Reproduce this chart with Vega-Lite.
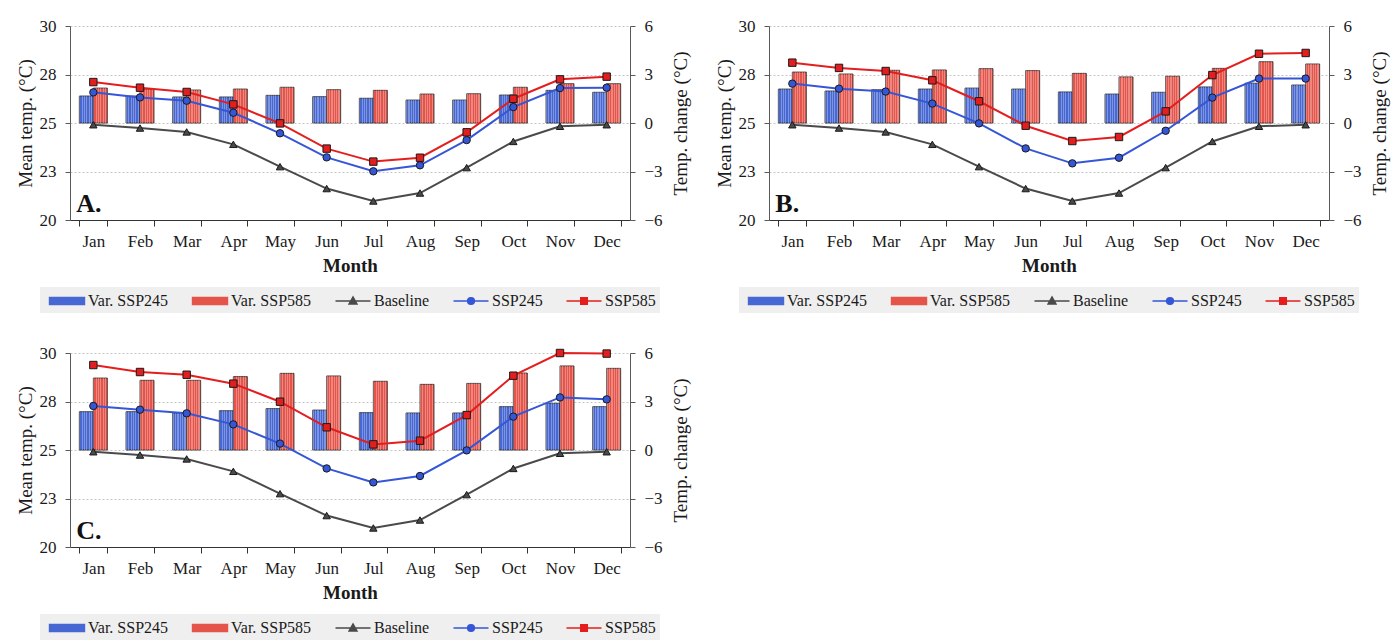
{
  "$schema": "https://vega.github.io/schema/vega-lite/v6.json",
  "background": "white",
  "padding": {"top": 17, "left": 16, "right": 5, "bottom": 0},
  "datasets": {
    "labels": [
      {"panel": "A", "label": "A."},
      {"panel": "B", "label": "B."},
      {"panel": "C", "label": "C."}
    ],
    "main": [
      {"panel":"A","month":"Jan","series":"Baseline","value":24.91},
      {"panel":"A","month":"Feb","series":"Baseline","value":24.74},
      {"panel":"A","month":"Mar","series":"Baseline","value":24.54},
      {"panel":"A","month":"Apr","series":"Baseline","value":23.90},
      {"panel":"A","month":"May","series":"Baseline","value":22.75},
      {"panel":"A","month":"Jun","series":"Baseline","value":21.62},
      {"panel":"A","month":"Jul","series":"Baseline","value":20.98},
      {"panel":"A","month":"Aug","series":"Baseline","value":21.39},
      {"panel":"A","month":"Sep","series":"Baseline","value":22.70},
      {"panel":"A","month":"Oct","series":"Baseline","value":24.05},
      {"panel":"A","month":"Nov","series":"Baseline","value":24.83},
      {"panel":"A","month":"Dec","series":"Baseline","value":24.91},
      {"panel":"A","month":"Jan","series":"SSP245","value":26.58},
      {"panel":"A","month":"Feb","series":"SSP245","value":26.32},
      {"panel":"A","month":"Mar","series":"SSP245","value":26.15},
      {"panel":"A","month":"Apr","series":"SSP245","value":25.53},
      {"panel":"A","month":"May","series":"SSP245","value":24.47},
      {"panel":"A","month":"Jun","series":"SSP245","value":23.23},
      {"panel":"A","month":"Jul","series":"SSP245","value":22.51},
      {"panel":"A","month":"Aug","series":"SSP245","value":22.82},
      {"panel":"A","month":"Sep","series":"SSP245","value":24.12},
      {"panel":"A","month":"Oct","series":"SSP245","value":25.82},
      {"panel":"A","month":"Nov","series":"SSP245","value":26.80},
      {"panel":"A","month":"Dec","series":"SSP245","value":26.82},
      {"panel":"A","month":"Jan","series":"SSP585","value":27.11},
      {"panel":"A","month":"Feb","series":"SSP585","value":26.82},
      {"panel":"A","month":"Mar","series":"SSP585","value":26.60},
      {"panel":"A","month":"Apr","series":"SSP585","value":25.96},
      {"panel":"A","month":"May","series":"SSP585","value":24.98},
      {"panel":"A","month":"Jun","series":"SSP585","value":23.68},
      {"panel":"A","month":"Jul","series":"SSP585","value":23.01},
      {"panel":"A","month":"Aug","series":"SSP585","value":23.21},
      {"panel":"A","month":"Sep","series":"SSP585","value":24.52},
      {"panel":"A","month":"Oct","series":"SSP585","value":26.25},
      {"panel":"A","month":"Nov","series":"SSP585","value":27.25},
      {"panel":"A","month":"Dec","series":"SSP585","value":27.39},
      {"panel":"A","month":"Jan","series":"Var. SSP245","value":1.67},
      {"panel":"A","month":"Feb","series":"Var. SSP245","value":1.67},
      {"panel":"A","month":"Mar","series":"Var. SSP245","value":1.61},
      {"panel":"A","month":"Apr","series":"Var. SSP245","value":1.61},
      {"panel":"A","month":"May","series":"Var. SSP245","value":1.71},
      {"panel":"A","month":"Jun","series":"Var. SSP245","value":1.63},
      {"panel":"A","month":"Jul","series":"Var. SSP245","value":1.53},
      {"panel":"A","month":"Aug","series":"Var. SSP245","value":1.42},
      {"panel":"A","month":"Sep","series":"Var. SSP245","value":1.42},
      {"panel":"A","month":"Oct","series":"Var. SSP245","value":1.73},
      {"panel":"A","month":"Nov","series":"Var. SSP245","value":2.02},
      {"panel":"A","month":"Dec","series":"Var. SSP245","value":1.90},
      {"panel":"A","month":"Jan","series":"Var. SSP585","value":2.16},
      {"panel":"A","month":"Feb","series":"Var. SSP585","value":2.10},
      {"panel":"A","month":"Mar","series":"Var. SSP585","value":2.04},
      {"panel":"A","month":"Apr","series":"Var. SSP585","value":2.10},
      {"panel":"A","month":"May","series":"Var. SSP585","value":2.21},
      {"panel":"A","month":"Jun","series":"Var. SSP585","value":2.06},
      {"panel":"A","month":"Jul","series":"Var. SSP585","value":2.02},
      {"panel":"A","month":"Aug","series":"Var. SSP585","value":1.79},
      {"panel":"A","month":"Sep","series":"Var. SSP585","value":1.81},
      {"panel":"A","month":"Oct","series":"Var. SSP585","value":2.21},
      {"panel":"A","month":"Nov","series":"Var. SSP585","value":2.43},
      {"panel":"A","month":"Dec","series":"Var. SSP585","value":2.43},

      {"panel":"B","month":"Jan","series":"Baseline","value":24.91},
      {"panel":"B","month":"Feb","series":"Baseline","value":24.74},
      {"panel":"B","month":"Mar","series":"Baseline","value":24.54},
      {"panel":"B","month":"Apr","series":"Baseline","value":23.90},
      {"panel":"B","month":"May","series":"Baseline","value":22.75},
      {"panel":"B","month":"Jun","series":"Baseline","value":21.62},
      {"panel":"B","month":"Jul","series":"Baseline","value":20.98},
      {"panel":"B","month":"Aug","series":"Baseline","value":21.39},
      {"panel":"B","month":"Sep","series":"Baseline","value":22.70},
      {"panel":"B","month":"Oct","series":"Baseline","value":24.05},
      {"panel":"B","month":"Nov","series":"Baseline","value":24.83},
      {"panel":"B","month":"Dec","series":"Baseline","value":24.91},
      {"panel":"B","month":"Jan","series":"SSP245","value":27.03},
      {"panel":"B","month":"Feb","series":"SSP245","value":26.77},
      {"panel":"B","month":"Mar","series":"SSP245","value":26.62},
      {"panel":"B","month":"Apr","series":"SSP245","value":26.00},
      {"panel":"B","month":"May","series":"SSP245","value":24.98},
      {"panel":"B","month":"Jun","series":"SSP245","value":23.69},
      {"panel":"B","month":"Jul","series":"SSP245","value":22.92},
      {"panel":"B","month":"Aug","series":"SSP245","value":23.21},
      {"panel":"B","month":"Sep","series":"SSP245","value":24.60},
      {"panel":"B","month":"Oct","series":"SSP245","value":26.31},
      {"panel":"B","month":"Nov","series":"SSP245","value":27.29},
      {"panel":"B","month":"Dec","series":"SSP245","value":27.29},
      {"panel":"B","month":"Jan","series":"SSP585","value":28.11},
      {"panel":"B","month":"Feb","series":"SSP585","value":27.84},
      {"panel":"B","month":"Mar","series":"SSP585","value":27.68},
      {"panel":"B","month":"Apr","series":"SSP585","value":27.20},
      {"panel":"B","month":"May","series":"SSP585","value":26.12},
      {"panel":"B","month":"Jun","series":"SSP585","value":24.86},
      {"panel":"B","month":"Jul","series":"SSP585","value":24.07},
      {"panel":"B","month":"Aug","series":"SSP585","value":24.28},
      {"panel":"B","month":"Sep","series":"SSP585","value":25.60},
      {"panel":"B","month":"Oct","series":"SSP585","value":27.47},
      {"panel":"B","month":"Nov","series":"SSP585","value":28.57},
      {"panel":"B","month":"Dec","series":"SSP585","value":28.61},
      {"panel":"B","month":"Jan","series":"Var. SSP245","value":2.10},
      {"panel":"B","month":"Feb","series":"Var. SSP245","value":1.98},
      {"panel":"B","month":"Mar","series":"Var. SSP245","value":2.06},
      {"panel":"B","month":"Apr","series":"Var. SSP245","value":2.10},
      {"panel":"B","month":"May","series":"Var. SSP245","value":2.16},
      {"panel":"B","month":"Jun","series":"Var. SSP245","value":2.10},
      {"panel":"B","month":"Jul","series":"Var. SSP245","value":1.92},
      {"panel":"B","month":"Aug","series":"Var. SSP245","value":1.79},
      {"panel":"B","month":"Sep","series":"Var. SSP245","value":1.90},
      {"panel":"B","month":"Oct","series":"Var. SSP245","value":2.23},
      {"panel":"B","month":"Nov","series":"Var. SSP245","value":2.46},
      {"panel":"B","month":"Dec","series":"Var. SSP245","value":2.35},
      {"panel":"B","month":"Jan","series":"Var. SSP585","value":3.15},
      {"panel":"B","month":"Feb","series":"Var. SSP585","value":3.03},
      {"panel":"B","month":"Mar","series":"Var. SSP585","value":3.26},
      {"panel":"B","month":"Apr","series":"Var. SSP585","value":3.28},
      {"panel":"B","month":"May","series":"Var. SSP585","value":3.36},
      {"panel":"B","month":"Jun","series":"Var. SSP585","value":3.24},
      {"panel":"B","month":"Jul","series":"Var. SSP585","value":3.07},
      {"panel":"B","month":"Aug","series":"Var. SSP585","value":2.85},
      {"panel":"B","month":"Sep","series":"Var. SSP585","value":2.89},
      {"panel":"B","month":"Oct","series":"Var. SSP585","value":3.38},
      {"panel":"B","month":"Nov","series":"Var. SSP585","value":3.79},
      {"panel":"B","month":"Dec","series":"Var. SSP585","value":3.65},

      {"panel":"C","month":"Jan","series":"Baseline","value":24.91},
      {"panel":"C","month":"Feb","series":"Baseline","value":24.74},
      {"panel":"C","month":"Mar","series":"Baseline","value":24.54},
      {"panel":"C","month":"Apr","series":"Baseline","value":23.90},
      {"panel":"C","month":"May","series":"Baseline","value":22.75},
      {"panel":"C","month":"Jun","series":"Baseline","value":21.62},
      {"panel":"C","month":"Jul","series":"Baseline","value":20.98},
      {"panel":"C","month":"Aug","series":"Baseline","value":21.39},
      {"panel":"C","month":"Sep","series":"Baseline","value":22.70},
      {"panel":"C","month":"Oct","series":"Baseline","value":24.05},
      {"panel":"C","month":"Nov","series":"Baseline","value":24.83},
      {"panel":"C","month":"Dec","series":"Baseline","value":24.91},
      {"panel":"C","month":"Jan","series":"SSP245","value":27.27},
      {"panel":"C","month":"Feb","series":"SSP245","value":27.08},
      {"panel":"C","month":"Mar","series":"SSP245","value":26.89},
      {"panel":"C","month":"Apr","series":"SSP245","value":26.32},
      {"panel":"C","month":"May","series":"SSP245","value":25.33},
      {"panel":"C","month":"Jun","series":"SSP245","value":24.05},
      {"panel":"C","month":"Jul","series":"SSP245","value":23.33},
      {"panel":"C","month":"Aug","series":"SSP245","value":23.66},
      {"panel":"C","month":"Sep","series":"SSP245","value":24.98},
      {"panel":"C","month":"Oct","series":"SSP245","value":26.72},
      {"panel":"C","month":"Nov","series":"SSP245","value":27.71},
      {"panel":"C","month":"Dec","series":"SSP245","value":27.61},
      {"panel":"C","month":"Jan","series":"SSP585","value":29.38},
      {"panel":"C","month":"Feb","series":"SSP585","value":29.02},
      {"panel":"C","month":"Mar","series":"SSP585","value":28.88},
      {"panel":"C","month":"Apr","series":"SSP585","value":28.42},
      {"panel":"C","month":"May","series":"SSP585","value":27.49},
      {"panel":"C","month":"Jun","series":"SSP585","value":26.17},
      {"panel":"C","month":"Jul","series":"SSP585","value":25.29},
      {"panel":"C","month":"Aug","series":"SSP585","value":25.48},
      {"panel":"C","month":"Sep","series":"SSP585","value":26.80},
      {"panel":"C","month":"Oct","series":"SSP585","value":28.83},
      {"panel":"C","month":"Nov","series":"SSP585","value":30.00},
      {"panel":"C","month":"Dec","series":"SSP585","value":29.97},
      {"panel":"C","month":"Jan","series":"Var. SSP245","value":2.37},
      {"panel":"C","month":"Feb","series":"Var. SSP245","value":2.37},
      {"panel":"C","month":"Mar","series":"Var. SSP245","value":2.29},
      {"panel":"C","month":"Apr","series":"Var. SSP245","value":2.43},
      {"panel":"C","month":"May","series":"Var. SSP245","value":2.56},
      {"panel":"C","month":"Jun","series":"Var. SSP245","value":2.47},
      {"panel":"C","month":"Jul","series":"Var. SSP245","value":2.31},
      {"panel":"C","month":"Aug","series":"Var. SSP245","value":2.29},
      {"panel":"C","month":"Sep","series":"Var. SSP245","value":2.29},
      {"panel":"C","month":"Oct","series":"Var. SSP245","value":2.68},
      {"panel":"C","month":"Nov","series":"Var. SSP245","value":2.89},
      {"panel":"C","month":"Dec","series":"Var. SSP245","value":2.68},
      {"panel":"C","month":"Jan","series":"Var. SSP585","value":4.45},
      {"panel":"C","month":"Feb","series":"Var. SSP585","value":4.31},
      {"panel":"C","month":"Mar","series":"Var. SSP585","value":4.31},
      {"panel":"C","month":"Apr","series":"Var. SSP585","value":4.54},
      {"panel":"C","month":"May","series":"Var. SSP585","value":4.74},
      {"panel":"C","month":"Jun","series":"Var. SSP585","value":4.58},
      {"panel":"C","month":"Jul","series":"Var. SSP585","value":4.25},
      {"panel":"C","month":"Aug","series":"Var. SSP585","value":4.06},
      {"panel":"C","month":"Sep","series":"Var. SSP585","value":4.12},
      {"panel":"C","month":"Oct","series":"Var. SSP585","value":4.76},
      {"panel":"C","month":"Nov","series":"Var. SSP585","value":5.20},
      {"panel":"C","month":"Dec","series":"Var. SSP585","value":5.05}
    ]
  },
  "data": {"name": "main"},
  "vconcat": [
    {
      "hconcat": [
        {
          "width": 560, "height": 194,
          "transform": [{"filter": "datum.panel === 'A'"}],
          "encoding": {
            "x": {"field": "month", "type": "nominal", "sort": ["Jan","Feb","Mar","Apr","May","Jun","Jul","Aug","Sep","Oct","Nov","Dec"],
                  "scale": {"paddingInner": 0.4, "paddingOuter": 0.2},
                  "axis": {"title": "Month", "labelAngle": 0, "tickBand": "extent", "tickSize": 6, "labelPadding": 7, "titleFontWeight": "bold", "titlePadding": 7, "domainColor": "#333333", "tickColor": "#333333"}}
          },
          "layer": [
            {
              "transform": [{"filter": "indexof(datum.series, 'Var.') === 0"}],
              "encoding": {
                "y": {"field": "value", "type": "quantitative", "scale": {"domain": [-6, 6], "nice": false, "zero": false},
                      "axis": {"orient": "right", "title": "Temp. change (°C)", "values": [-6,-3,0,3,6], "grid": false, "titleAngle": 270, "titleBaseline": "top", "titlePadding": 9, "tickSize": 5, "labelPadding": 9}},
                "xOffset": {"field": "series", "type": "nominal", "sort": ["Var. SSP245","Var. SSP585"], "scale": {"paddingInner": 0, "paddingOuter": 0}}
              },
              "layer": [
                {"mark": {"type": "bar", "stroke": "#262626", "strokeWidth": 0.8},
                 "encoding": {"color": {"field": "series", "type": "nominal",
                   "scale": {"domain": ["Var. SSP245","Var. SSP585","Baseline","SSP245","SSP585"], "range": ["#4767d3","#e5544a","#4a4a4a","#3556d6","#e41e1e"]},
                   "legend": {"orient": "bottom", "direction": "horizontal", "title": null, "symbolSize": 324, "labelOffset": 24, "columnPadding": 18, "offset": 12, "padding": 4, "fillColor": "#efefef",
                     "symbolStrokeWidth": 1.4, "symbolOpacity": 1,
                     "symbolType": {"expr": "datum.value === 'Var. SSP245' || datum.value === 'Var. SSP585' ? 'M-0.5,-0.39H3.39V0.39H-0.5Z' : datum.value === 'Baseline' ? 'M-0.5,0H3.39M1.445,-0.45L1.89,0.33H1Z' : datum.value === 'SSP245' ? 'M-0.5,0H3.39M1.825,0A0.38,0.38,0,1,1,1.065,0A0.38,0.38,0,1,1,1.825,0Z' : 'M-0.5,0H3.39M1.075,-0.37H1.815V0.37H1.075Z'"},
                     "symbolStrokeColor": {"expr": "datum.value === 'Var. SSP245' || datum.value === 'Var. SSP585' ? '#262626' : datum.value === 'Baseline' ? '#4a4a4a' : datum.value === 'SSP245' ? '#3556d6' : '#e41e1e'"}}}}},
                {"mark": {"type": "bar", "strokeWidth": 0, "fill": {"gradient": "linear", "x1": 0, "x2": 1, "y1": 0, "y2": 0, "stops": [
                  {"offset": 0, "color": "rgba(255,255,255,0.3)"}, {"offset": 0.0833, "color": "rgba(255,255,255,0.3)"},
                  {"offset": 0.0833, "color": "rgba(255,255,255,0)"}, {"offset": 0.1667, "color": "rgba(255,255,255,0)"},
                  {"offset": 0.1667, "color": "rgba(255,255,255,0.3)"}, {"offset": 0.25, "color": "rgba(255,255,255,0.3)"},
                  {"offset": 0.25, "color": "rgba(255,255,255,0)"}, {"offset": 0.3333, "color": "rgba(255,255,255,0)"},
                  {"offset": 0.3333, "color": "rgba(255,255,255,0.3)"}, {"offset": 0.4167, "color": "rgba(255,255,255,0.3)"},
                  {"offset": 0.4167, "color": "rgba(255,255,255,0)"}, {"offset": 0.5, "color": "rgba(255,255,255,0)"},
                  {"offset": 0.5, "color": "rgba(255,255,255,0.3)"}, {"offset": 0.5833, "color": "rgba(255,255,255,0.3)"},
                  {"offset": 0.5833, "color": "rgba(255,255,255,0)"}, {"offset": 0.6667, "color": "rgba(255,255,255,0)"},
                  {"offset": 0.6667, "color": "rgba(255,255,255,0.3)"}, {"offset": 0.75, "color": "rgba(255,255,255,0.3)"},
                  {"offset": 0.75, "color": "rgba(255,255,255,0)"}, {"offset": 0.8333, "color": "rgba(255,255,255,0)"},
                  {"offset": 0.8333, "color": "rgba(255,255,255,0.3)"}, {"offset": 0.9167, "color": "rgba(255,255,255,0.3)"},
                  {"offset": 0.9167, "color": "rgba(255,255,255,0)"}, {"offset": 1, "color": "rgba(255,255,255,0)"}]}}}
              ]
            },
            {
              "layer": [
                {"transform": [{"filter": "indexof(datum.series, 'Var.') < 0"}],
                 "mark": {"type": "line", "strokeWidth": 2},
                 "encoding": {
                   "y": {"field": "value", "type": "quantitative", "scale": {"domain": [20, 30], "nice": false, "zero": false},
                         "axis": {"orient": "left", "title": "Mean temp. (°C)", "values": [20,22.5,25,27.5,30], "format": ".0f", "grid": true, "tickSize": 5, "labelPadding": 9, "titlePadding": 4}},
                   "color": {"field": "series", "type": "nominal", "legend": null}}},
                {"transform": [{"filter": "indexof(datum.series, 'Var.') < 0"}],
                 "mark": {"type": "point", "filled": true, "stroke": "#1a1a1a", "strokeWidth": 1, "opacity": 1, "size": 55},
                 "encoding": {
                   "y": {"field": "value", "type": "quantitative"},
                   "color": {"field": "series", "type": "nominal", "legend": null},
                   "shape": {"field": "series", "type": "nominal", "scale": {"domain": ["Baseline","SSP245","SSP585"], "range": ["triangle-up","circle","square"]}, "legend": null}}},
                {"data": {"name": "labels"},
                 "transform": [{"filter": "datum.panel === 'A'"}],
                 "mark": {"type": "text", "font": "Liberation Serif", "fontWeight": "bold", "fontSize": 26, "align": "left", "baseline": "middle", "dx": -17, "color": "#111111"},
                 "encoding": {"x": {"datum": "Jan"}, "y": {"datum": 20.85, "type": "quantitative"}, "text": {"field": "label"}}}
              ]
            }
          ],
          "resolve": {"scale": {"y": "independent"}}
        },
        {
          "width": 560, "height": 194,
          "transform": [{"filter": "datum.panel === 'B'"}],
          "encoding": {
            "x": {"field": "month", "type": "nominal", "sort": ["Jan","Feb","Mar","Apr","May","Jun","Jul","Aug","Sep","Oct","Nov","Dec"],
                  "scale": {"paddingInner": 0.4, "paddingOuter": 0.2},
                  "axis": {"title": "Month", "labelAngle": 0, "tickBand": "extent", "tickSize": 6, "labelPadding": 7, "titleFontWeight": "bold", "titlePadding": 7, "domainColor": "#333333", "tickColor": "#333333"}}
          },
          "layer": [
            {
              "transform": [{"filter": "indexof(datum.series, 'Var.') === 0"}],
              "encoding": {
                "y": {"field": "value", "type": "quantitative", "scale": {"domain": [-6, 6], "nice": false, "zero": false},
                      "axis": {"orient": "right", "title": "Temp. change (°C)", "values": [-6,-3,0,3,6], "grid": false, "titleAngle": 270, "titleBaseline": "top", "titlePadding": 9, "tickSize": 5, "labelPadding": 9}},
                "xOffset": {"field": "series", "type": "nominal", "sort": ["Var. SSP245","Var. SSP585"], "scale": {"paddingInner": 0, "paddingOuter": 0}}
              },
              "layer": [
                {"mark": {"type": "bar", "stroke": "#262626", "strokeWidth": 0.8},
                 "encoding": {"color": {"field": "series", "type": "nominal",
                   "scale": {"domain": ["Var. SSP245","Var. SSP585","Baseline","SSP245","SSP585"], "range": ["#4767d3","#e5544a","#4a4a4a","#3556d6","#e41e1e"]},
                   "legend": {"orient": "bottom", "direction": "horizontal", "title": null, "symbolSize": 324, "labelOffset": 24, "columnPadding": 18, "offset": 12, "padding": 4, "fillColor": "#efefef",
                     "symbolStrokeWidth": 1.4, "symbolOpacity": 1,
                     "symbolType": {"expr": "datum.value === 'Var. SSP245' || datum.value === 'Var. SSP585' ? 'M-0.5,-0.39H3.39V0.39H-0.5Z' : datum.value === 'Baseline' ? 'M-0.5,0H3.39M1.445,-0.45L1.89,0.33H1Z' : datum.value === 'SSP245' ? 'M-0.5,0H3.39M1.825,0A0.38,0.38,0,1,1,1.065,0A0.38,0.38,0,1,1,1.825,0Z' : 'M-0.5,0H3.39M1.075,-0.37H1.815V0.37H1.075Z'"},
                     "symbolStrokeColor": {"expr": "datum.value === 'Var. SSP245' || datum.value === 'Var. SSP585' ? '#262626' : datum.value === 'Baseline' ? '#4a4a4a' : datum.value === 'SSP245' ? '#3556d6' : '#e41e1e'"}}}}},
                {"mark": {"type": "bar", "strokeWidth": 0, "fill": {"gradient": "linear", "x1": 0, "x2": 1, "y1": 0, "y2": 0, "stops": [
                  {"offset": 0, "color": "rgba(255,255,255,0.3)"}, {"offset": 0.0833, "color": "rgba(255,255,255,0.3)"},
                  {"offset": 0.0833, "color": "rgba(255,255,255,0)"}, {"offset": 0.1667, "color": "rgba(255,255,255,0)"},
                  {"offset": 0.1667, "color": "rgba(255,255,255,0.3)"}, {"offset": 0.25, "color": "rgba(255,255,255,0.3)"},
                  {"offset": 0.25, "color": "rgba(255,255,255,0)"}, {"offset": 0.3333, "color": "rgba(255,255,255,0)"},
                  {"offset": 0.3333, "color": "rgba(255,255,255,0.3)"}, {"offset": 0.4167, "color": "rgba(255,255,255,0.3)"},
                  {"offset": 0.4167, "color": "rgba(255,255,255,0)"}, {"offset": 0.5, "color": "rgba(255,255,255,0)"},
                  {"offset": 0.5, "color": "rgba(255,255,255,0.3)"}, {"offset": 0.5833, "color": "rgba(255,255,255,0.3)"},
                  {"offset": 0.5833, "color": "rgba(255,255,255,0)"}, {"offset": 0.6667, "color": "rgba(255,255,255,0)"},
                  {"offset": 0.6667, "color": "rgba(255,255,255,0.3)"}, {"offset": 0.75, "color": "rgba(255,255,255,0.3)"},
                  {"offset": 0.75, "color": "rgba(255,255,255,0)"}, {"offset": 0.8333, "color": "rgba(255,255,255,0)"},
                  {"offset": 0.8333, "color": "rgba(255,255,255,0.3)"}, {"offset": 0.9167, "color": "rgba(255,255,255,0.3)"},
                  {"offset": 0.9167, "color": "rgba(255,255,255,0)"}, {"offset": 1, "color": "rgba(255,255,255,0)"}]}}}
              ]
            },
            {
              "layer": [
                {"transform": [{"filter": "indexof(datum.series, 'Var.') < 0"}],
                 "mark": {"type": "line", "strokeWidth": 2},
                 "encoding": {
                   "y": {"field": "value", "type": "quantitative", "scale": {"domain": [20, 30], "nice": false, "zero": false},
                         "axis": {"orient": "left", "title": "Mean temp. (°C)", "values": [20,22.5,25,27.5,30], "format": ".0f", "grid": true, "tickSize": 5, "labelPadding": 9, "titlePadding": 4}},
                   "color": {"field": "series", "type": "nominal", "legend": null}}},
                {"transform": [{"filter": "indexof(datum.series, 'Var.') < 0"}],
                 "mark": {"type": "point", "filled": true, "stroke": "#1a1a1a", "strokeWidth": 1, "opacity": 1, "size": 55},
                 "encoding": {
                   "y": {"field": "value", "type": "quantitative"},
                   "color": {"field": "series", "type": "nominal", "legend": null},
                   "shape": {"field": "series", "type": "nominal", "scale": {"domain": ["Baseline","SSP245","SSP585"], "range": ["triangle-up","circle","square"]}, "legend": null}}},
                {"data": {"name": "labels"},
                 "transform": [{"filter": "datum.panel === 'B'"}],
                 "mark": {"type": "text", "font": "Liberation Serif", "fontWeight": "bold", "fontSize": 26, "align": "left", "baseline": "middle", "dx": -17, "color": "#111111"},
                 "encoding": {"x": {"datum": "Jan"}, "y": {"datum": 20.85, "type": "quantitative"}, "text": {"field": "label"}}}
              ]
            }
          ],
          "resolve": {"scale": {"y": "independent"}}
        }
      ],
      "spacing": 24,
      "resolve": {"scale": {"color": "independent", "shape": "independent"}, "legend": {"color": "independent"}}
    },
    {
      "width": 560, "height": 194,
      "transform": [{"filter": "datum.panel === 'C'"}],
      "encoding": {
        "x": {"field": "month", "type": "nominal", "sort": ["Jan","Feb","Mar","Apr","May","Jun","Jul","Aug","Sep","Oct","Nov","Dec"],
              "scale": {"paddingInner": 0.4, "paddingOuter": 0.2},
              "axis": {"title": "Month", "labelAngle": 0, "tickBand": "extent", "tickSize": 6, "labelPadding": 7, "titleFontWeight": "bold", "titlePadding": 7, "domainColor": "#333333", "tickColor": "#333333"}}
      },
      "layer": [
        {
          "transform": [{"filter": "indexof(datum.series, 'Var.') === 0"}],
          "encoding": {
            "y": {"field": "value", "type": "quantitative", "scale": {"domain": [-6, 6], "nice": false, "zero": false},
                  "axis": {"orient": "right", "title": "Temp. change (°C)", "values": [-6,-3,0,3,6], "grid": false, "titleAngle": 270, "titleBaseline": "top", "titlePadding": 9, "tickSize": 5, "labelPadding": 9}},
            "xOffset": {"field": "series", "type": "nominal", "sort": ["Var. SSP245","Var. SSP585"], "scale": {"paddingInner": 0, "paddingOuter": 0}}
          },
          "layer": [
            {"mark": {"type": "bar", "stroke": "#262626", "strokeWidth": 0.8},
             "encoding": {"color": {"field": "series", "type": "nominal",
               "scale": {"domain": ["Var. SSP245","Var. SSP585","Baseline","SSP245","SSP585"], "range": ["#4767d3","#e5544a","#4a4a4a","#3556d6","#e41e1e"]},
               "legend": {"orient": "bottom", "direction": "horizontal", "title": null, "symbolSize": 324, "labelOffset": 24, "columnPadding": 18, "offset": 12, "padding": 4, "fillColor": "#efefef",
                 "symbolStrokeWidth": 1.4, "symbolOpacity": 1,
                 "symbolType": {"expr": "datum.value === 'Var. SSP245' || datum.value === 'Var. SSP585' ? 'M-0.5,-0.39H3.39V0.39H-0.5Z' : datum.value === 'Baseline' ? 'M-0.5,0H3.39M1.445,-0.45L1.89,0.33H1Z' : datum.value === 'SSP245' ? 'M-0.5,0H3.39M1.825,0A0.38,0.38,0,1,1,1.065,0A0.38,0.38,0,1,1,1.825,0Z' : 'M-0.5,0H3.39M1.075,-0.37H1.815V0.37H1.075Z'"},
                 "symbolStrokeColor": {"expr": "datum.value === 'Var. SSP245' || datum.value === 'Var. SSP585' ? '#262626' : datum.value === 'Baseline' ? '#4a4a4a' : datum.value === 'SSP245' ? '#3556d6' : '#e41e1e'"}}}}},
            {"mark": {"type": "bar", "strokeWidth": 0, "fill": {"gradient": "linear", "x1": 0, "x2": 1, "y1": 0, "y2": 0, "stops": [
              {"offset": 0, "color": "rgba(255,255,255,0.3)"}, {"offset": 0.0833, "color": "rgba(255,255,255,0.3)"},
              {"offset": 0.0833, "color": "rgba(255,255,255,0)"}, {"offset": 0.1667, "color": "rgba(255,255,255,0)"},
              {"offset": 0.1667, "color": "rgba(255,255,255,0.3)"}, {"offset": 0.25, "color": "rgba(255,255,255,0.3)"},
              {"offset": 0.25, "color": "rgba(255,255,255,0)"}, {"offset": 0.3333, "color": "rgba(255,255,255,0)"},
              {"offset": 0.3333, "color": "rgba(255,255,255,0.3)"}, {"offset": 0.4167, "color": "rgba(255,255,255,0.3)"},
              {"offset": 0.4167, "color": "rgba(255,255,255,0)"}, {"offset": 0.5, "color": "rgba(255,255,255,0)"},
              {"offset": 0.5, "color": "rgba(255,255,255,0.3)"}, {"offset": 0.5833, "color": "rgba(255,255,255,0.3)"},
              {"offset": 0.5833, "color": "rgba(255,255,255,0)"}, {"offset": 0.6667, "color": "rgba(255,255,255,0)"},
              {"offset": 0.6667, "color": "rgba(255,255,255,0.3)"}, {"offset": 0.75, "color": "rgba(255,255,255,0.3)"},
              {"offset": 0.75, "color": "rgba(255,255,255,0)"}, {"offset": 0.8333, "color": "rgba(255,255,255,0)"},
              {"offset": 0.8333, "color": "rgba(255,255,255,0.3)"}, {"offset": 0.9167, "color": "rgba(255,255,255,0.3)"},
              {"offset": 0.9167, "color": "rgba(255,255,255,0)"}, {"offset": 1, "color": "rgba(255,255,255,0)"}]}}}
          ]
        },
        {
          "layer": [
            {"transform": [{"filter": "indexof(datum.series, 'Var.') < 0"}],
             "mark": {"type": "line", "strokeWidth": 2},
             "encoding": {
               "y": {"field": "value", "type": "quantitative", "scale": {"domain": [20, 30], "nice": false, "zero": false},
                     "axis": {"orient": "left", "title": "Mean temp. (°C)", "values": [20,22.5,25,27.5,30], "format": ".0f", "grid": true, "tickSize": 5, "labelPadding": 9, "titlePadding": 4}},
               "color": {"field": "series", "type": "nominal", "legend": null}}},
            {"transform": [{"filter": "indexof(datum.series, 'Var.') < 0"}],
             "mark": {"type": "point", "filled": true, "stroke": "#1a1a1a", "strokeWidth": 1, "opacity": 1, "size": 55},
             "encoding": {
               "y": {"field": "value", "type": "quantitative"},
               "color": {"field": "series", "type": "nominal", "legend": null},
               "shape": {"field": "series", "type": "nominal", "scale": {"domain": ["Baseline","SSP245","SSP585"], "range": ["triangle-up","circle","square"]}, "legend": null}}},
            {"data": {"name": "labels"},
             "transform": [{"filter": "datum.panel === 'C'"}],
             "mark": {"type": "text", "font": "Liberation Serif", "fontWeight": "bold", "fontSize": 26, "align": "left", "baseline": "middle", "dx": -17, "color": "#111111"},
             "encoding": {"x": {"datum": "Jan"}, "y": {"datum": 20.85, "type": "quantitative"}, "text": {"field": "label"}}}
          ]
        }
      ],
      "resolve": {"scale": {"y": "independent"}}
    }
  ],
  "spacing": 31,
  "resolve": {"scale": {"color": "independent", "shape": "independent"}, "legend": {"color": "independent"}},
  "config": {
    "font": "Liberation Serif",
    "view": {"stroke": null},
    "axis": {"labelFont": "Liberation Serif", "labelFontSize": 17, "labelColor": "#1a1a1a", "titleFont": "Liberation Serif", "titleFontSize": 19, "titleFontWeight": "normal", "titleColor": "#1a1a1a", "domainColor": "#595959", "tickColor": "#595959", "gridColor": "#c6c6c6", "gridDash": [2, 2]},
    "legend": {"labelFont": "Liberation Serif", "labelFontSize": 16, "labelColor": "#1a1a1a", "layout": {"bottom": {"anchor": "middle"}}}
  }
}
